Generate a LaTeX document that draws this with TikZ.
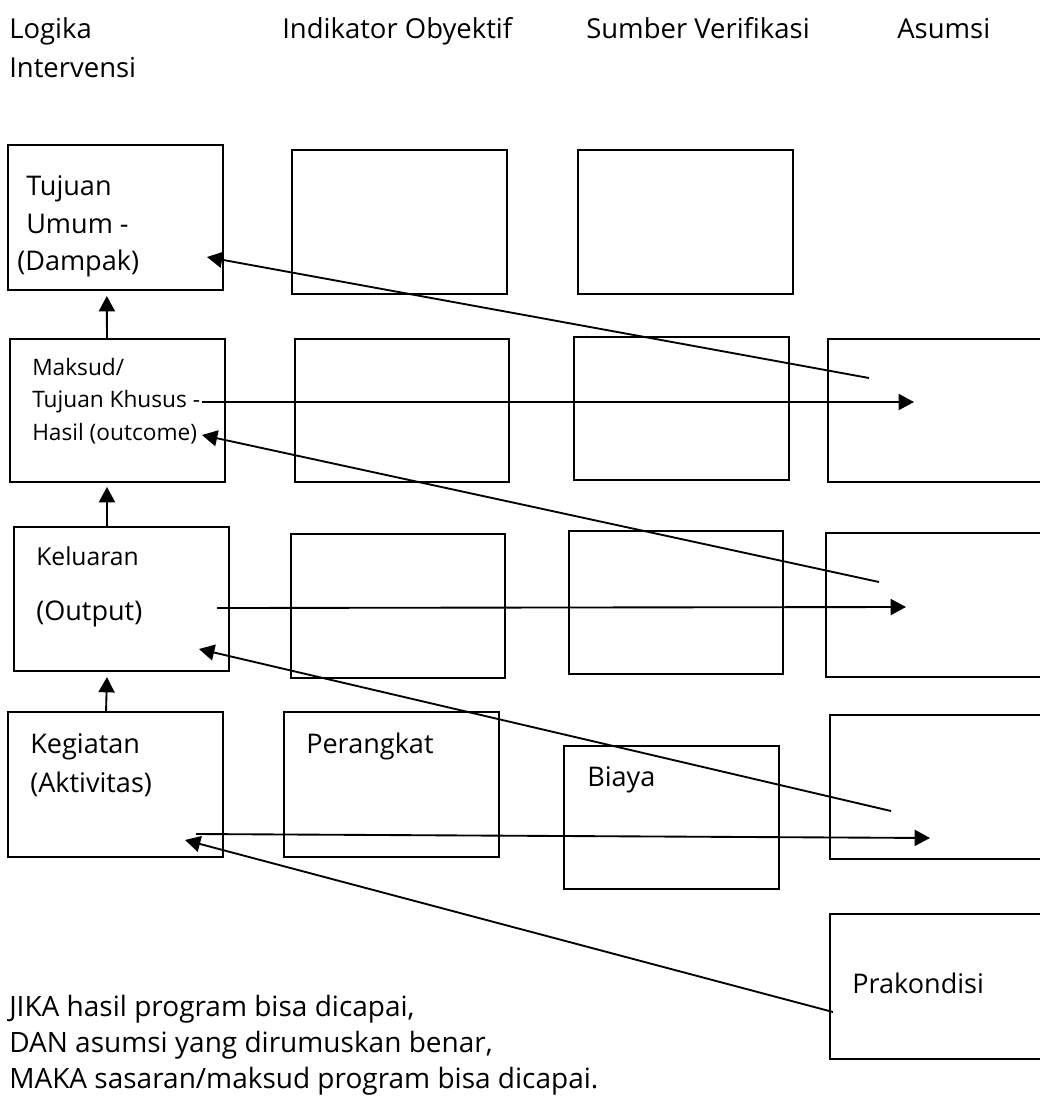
\documentclass[tikz,border=0pt]{standalone}
\usepackage{fontspec}
\setmainfont{Open Sans}
\usetikzlibrary{arrows.meta,fit}
\begin{document}
\begin{tikzpicture}[x=0.75pt,y=-0.75pt,
  box/.style={draw, line width=1.4pt, inner sep=0pt},
  txt/.style={anchor=base west, inner sep=0pt, font=\fontsize{20.3}{24}\selectfont},
  head/.style={anchor=base west, inner sep=0pt, font=\fontsize{20.6}{24}\selectfont},
  note/.style={anchor=base west, inner sep=0pt, font=\fontsize{21}{25}\selectfont},
  mid/.style={anchor=base west, inner sep=0pt, font=\fontsize{18.5}{22}\selectfont},
  small/.style={anchor=base west, inner sep=0pt, font=\fontsize{17}{20}\selectfont},
  link/.style={line width=1.4pt, -{Triangle[length=11.5pt,width=12pt]}}]
\useasboundingbox (0,0) rectangle (1039,1096);

% column headings
\node[head] (h1a) at (9,38) {Logika};
\node[head] (h1b) at (9,77) {Intervensi};
\node[head] (h2) at (282,38) {Indikator Obyektif};
\node[head] (h3) at (586,38) {Sumber Verifikasi};
\node[head] (h4) at (897,38) {Asumsi};

% row 1
\node[box, fit={(8,145) (223,290)}] (a1) {};
\node[box, fit={(292,150) (507,294)}] (b1) {};
\node[box, fit={(578,150) (793,294)}] (c1) {};
% row 2
\node[box, fit={(10,339) (225,482)}] (a2) {};
\node[box, fit={(295,339) (509,482)}] (b2) {};
\node[box, fit={(574,337) (789,480)}] (c2) {};
\node[box, fit={(828,339) (1046,482)}] (d2) {};
% row 3
\node[box, fit={(14,527) (229,671)}] (a3) {};
\node[box, fit={(291,534) (505,678)}] (b3) {};
\node[box, fit={(569,531) (783,674)}] (c3) {};
\node[box, fit={(826,533) (1046,677)}] (d3) {};
% row 4
\node[box, fit={(8,712) (223,857)}] (a4) {};
\node[box, fit={(284,712) (499,857)}] (b4) {};
\node[box, fit={(564,746) (779,889)}] (c4) {};
\node[box, fit={(830,715) (1046,859)}] (d4) {};
% precondition
\node[box, fit={(830,914) (1046,1059)}] (pk) {};

% box texts
\node[txt] (t1a) at (26,195) {Tujuan};
\node[txt] (t1b) at (26,233) {Umum -};
\node[txt] (t1c) at (17,270) {(Dampak)};
\node[small] (t2a) at (32,375) {Maksud/};
\node[small] (t2b) at (32,407) {Tujuan Khusus -};
\node[small] (t2c) at (32,440) {Hasil (outcome)};
\node[mid] (t3a) at (36,565) {Keluaran};
\node[txt] (t3b) at (36,620) {(Output)};
\node[txt] (t4a) at (30,753) {Kegiatan};
\node[txt] (t4b) at (30,792) {(Aktivitas)};
\node[txt] (tb4) at (306,753) {Perangkat};
\node[txt] (tc4) at (587,786) {Biaya};
\node[txt] (tpk) at (852,993) {Prakondisi};

% closing statement
\node[note] (s1) at (9,1016) {JIKA hasil program bisa dicapai,};
\node[note] (s2) at (9,1052) {DAN asumsi yang dirumuskan benar,};
\node[note] (s3) at (9,1088) {MAKA sasaran/maksud program bisa dicapai.};

% vertical chain of the intervention logic
\draw[link] ([xshift=-7.9pt]a2.north) -- ([xshift=-6.5pt,yshift=-3.8pt]a1.south);
\draw[link] ([xshift=-10.9pt]a3.north) -- ([xshift=-7.9pt,yshift=-3pt]a2.south);
\draw[link] ([xshift=-7.1pt]a4.north) -- ([xshift=-10.9pt,yshift=-3.8pt]a3.south);

% end points of the cross links
\coordinate (p1s) at (869,378);
\coordinate (p1e) at (207,257);
\coordinate (q1s) at (202,402);
\coordinate (q1e) at (914,402);
\coordinate (p2s) at (879,582);
\coordinate (p2e) at (202,435);
\coordinate (q2s) at (217,608);
\coordinate (q2e) at (906,607);
\coordinate (p3s) at (891,811);
\coordinate (p3e) at (199,649);
\coordinate (q3s) at (196,834);
\coordinate (q3e) at (930,838);
\coordinate (p4s) at (833,1012);
\coordinate (p4e) at (185,840);

% level to assumption and back to the next level
\draw[link] (p1s) -- (p1e);
\draw[link] (q1s) -- (q1e);
\draw[link] (p2s) -- (p2e);
\draw[link] (q2s) -- (q2e);
\draw[link] (p3s) -- (p3e);
\draw[link] (q3s) -- (q3e);
\draw[link] (p4s) -- (p4e);
\end{tikzpicture}
\end{document}
